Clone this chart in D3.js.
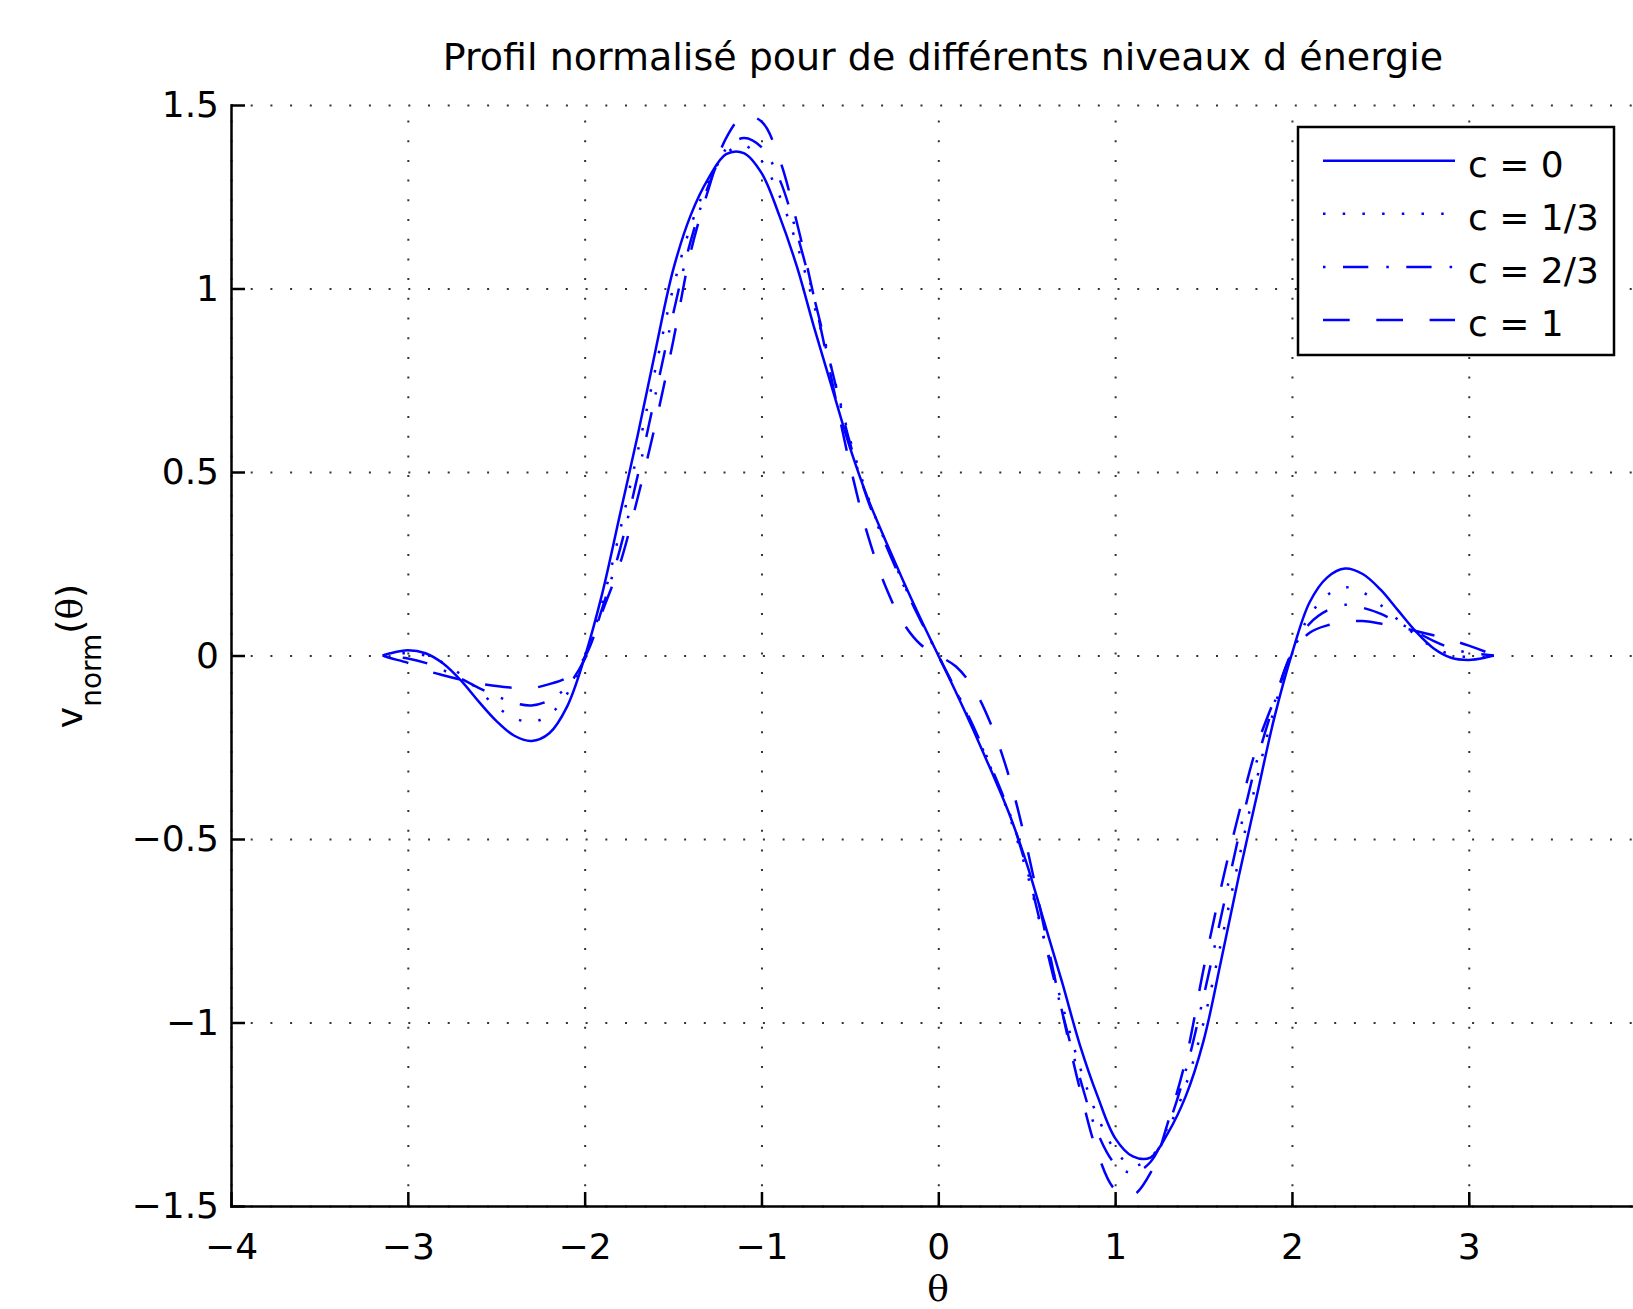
<!DOCTYPE html>
<html>
  <head>
    <meta charset="utf-8">
    <title>Profil normalisé</title>
    <style>
      body { margin: 0; background: #fff; }
      svg text { font-family: "DejaVu Sans", sans-serif; fill: #000; }
      .grid line { stroke: #333; stroke-width: 2; stroke-dasharray: 2, 17.7; }
      .grid .domain { display: none; }
      .axis path, .axis line { stroke: #000; stroke-width: 2.5; }
      .curve { fill: none; stroke: #0000ff; stroke-width: 2.5; stroke-linejoin: round; }
    </style>
  </head>
  <body>
    <div id="chart"></div>

    <script src="https://d3js.org/d3.v7.min.js"></script>
    <script>
      const theta = [-3.1416, -3.1, -3.0, -2.9, -2.8, -2.7, -2.6, -2.5, -2.4, -2.3, -2.2, -2.1, -2.0,
        -1.9, -1.8, -1.7, -1.6, -1.5, -1.4, -1.3, -1.2, -1.1, -1.0, -0.9, -0.8, -0.7, -0.6, -0.5,
        -0.4, -0.3, -0.2, -0.1, 0, 0.1, 0.2, 0.3, 0.4, 0.5, 0.6, 0.7, 0.8, 0.9, 1.0, 1.1, 1.2,
        1.3, 1.4, 1.5, 1.6, 1.7, 1.8, 1.9, 2.0, 2.1, 2.2, 2.3, 2.4, 2.5, 2.6, 2.7, 2.8, 2.9,
        3.0, 3.1, 3.1416]

      const c0 = [0, 0.006, 0.014, 0.006, -0.022, -0.068, -0.125, -0.178, -0.218, -0.233, -0.212,
        -0.14, -0.005, 0.17, 0.385, 0.60, 0.83, 1.05, 1.20, 1.30, 1.366, 1.369, 1.315, 1.20, 1.06,
        0.89, 0.728, 0.567, 0.43, 0.315, 0.205, 0.10, 0,
        -0.10, -0.205, -0.315, -0.43, -0.567, -0.728, -0.89, -1.06, -1.20, -1.315, -1.365, -1.368,
        -1.30, -1.20, -1.05, -0.83, -0.60, -0.385, -0.17, 0.005, 0.145, 0.213, 0.237, 0.222, 0.18,
        0.123, 0.066, 0.02, -0.006, -0.012, -0.005, 0]

      const c13 = [0, 0.004, 0.006, 0.0, -0.02, -0.052, -0.095, -0.138, -0.17, -0.181, -0.162,
        -0.105, -0.01, 0.145, 0.34, 0.555, 0.78, 1.0, 1.17, 1.29, 1.368, 1.39, 1.348, 1.255, 1.12,
        0.95, 0.775, 0.59, 0.435, 0.31, 0.2, 0.097, 0,
        -0.097, -0.2, -0.31, -0.435, -0.59, -0.775, -0.95, -1.12, -1.255, -1.348, -1.39, -1.368,
        -1.29, -1.17, -1.0, -0.78, -0.555, -0.34, -0.145, 0.01, 0.108, 0.165, 0.186, 0.172, 0.138,
        0.097, 0.055, 0.022, 0.003, -0.004, -0.003, 0]

      const c23 = [0, -0.003, -0.008, -0.02, -0.04, -0.063, -0.088, -0.11, -0.129, -0.136, -0.122,
        -0.085, -0.01, 0.13, 0.29, 0.49, 0.71, 0.93, 1.13, 1.28, 1.38, 1.41, 1.385, 1.30, 1.15,
        0.97, 0.775, 0.58, 0.425, 0.305, 0.195, 0.095, 0,
        -0.095, -0.195, -0.305, -0.425, -0.58, -0.775, -0.97, -1.15, -1.30, -1.385, -1.41, -1.38,
        -1.28, -1.13, -0.93, -0.71, -0.49, -0.29, -0.13, 0.01, 0.087, 0.123, 0.138, 0.13, 0.114,
        0.09, 0.065, 0.04, 0.02, 0.007, 0.002, 0]

      const c1 = [0, -0.007, -0.02, -0.04, -0.054, -0.066, -0.076, -0.083, -0.088, -0.089, -0.078,
        -0.06, -0.005, 0.12, 0.25, 0.43, 0.63, 0.855, 1.10, 1.27, 1.41, 1.47, 1.455, 1.355, 1.18,
        0.97, 0.745, 0.52, 0.33, 0.19, 0.09, 0.03, 0,
        -0.03, -0.09, -0.19, -0.33, -0.52, -0.745, -0.97, -1.18, -1.355, -1.455, -1.47, -1.41,
        -1.27, -1.10, -0.855, -0.63, -0.43, -0.25, -0.12, 0.005, 0.062, 0.082, 0.091, 0.094, 0.087,
        0.078, 0.067, 0.055, 0.042, 0.027, 0.009, 0]

      const labels = ["c = 0", "c = 1/3", "c = 2/3", "c = 1"]
      // the axis runs to 4 but the figure is cropped before that tick
      const xTicks = [-4, -3, -2, -1, 0, 1, 2, 3]
      const yTicks = [-1.5, -1, -0.5, 0, 0.5, 1, 1.5]

      // matlab line styles: -  :  -.  --
      const dashes = [null, "2.5,17.2", "2.5,17.5,25.3,18", "26.7,26.6"]
      const series = [c0, c13, c23, c1]

      const margin = { top: 105, left: 231 },
        width = 1414.6,
        height = 1101;

      const svg = d3.select("#chart")
        .append("svg")
        .attr("width", 1633)
        .attr("height", 1309)

      const g = svg.append("g")
        .attr("transform", "translate(" + margin.left + "," + margin.top + ")")

      const x = d3.scaleLinear().domain([-4, 4]).range([0, width])
      const y = d3.scaleLinear().domain([-1.5, 1.5]).range([height, 0])

      const fmt = d => d < 0 ? "\u2212" + Math.abs(d) : String(d)

      // dotted grid
      g.append("g")
        .attr("class", "grid")
        .attr("transform", "translate(0," + height + ")")
        .call(d3.axisBottom(x).tickValues(xTicks).tickSize(-height).tickFormat(""))

      g.append("g")
        .attr("class", "grid")
        .call(d3.axisLeft(y).tickValues(yTicks).tickSize(-width).tickFormat(""))

      // axes, ticks pointing inward
      g.append("g")
        .attr("class", "axis")
        .attr("transform", "translate(0," + height + ")")
        .call(d3.axisBottom(x).tickValues(xTicks).tickSizeInner(-14).tickSizeOuter(0)
          .tickPadding(27).tickFormat(fmt))

      g.append("g")
        .attr("class", "axis")
        .call(d3.axisLeft(y).tickValues(yTicks).tickSizeInner(-14).tickSizeOuter(0)
          .tickPadding(12).tickFormat(fmt))

      g.selectAll(".axis text")
        .attr("font-size", 36)
        .attr("font-family", "DejaVu Sans")
        .attr("fill", "#000")
      g.selectAll(".axis .domain").attr("stroke-linecap", "square")

      const line = d3.line()
        .x((d, i) => x(theta[i]))
        .y(d => y(d))
        .curve(d3.curveCatmullRom.alpha(0.5))

      series.forEach((vals, ix) => {
        g.append("path")
          .attr("class", "curve")
          .attr("d", line(vals))
          .attr("stroke-dasharray", dashes[ix])
      })

      // title and labels
      svg.append("text")
        .attr("x", 943)
        .attr("y", 70)
        .attr("text-anchor", "middle")
        .attr("font-size", 38)
        .text("Profil normalisé pour de différents niveaux d énergie")

      svg.append("text")
        .attr("x", 938)
        .attr("y", 1301)
        .attr("text-anchor", "middle")
        .attr("font-size", 36)
        .style("font-family", "DejaVu Serif")
        .text("θ")

      const ylab = svg.append("text")
        .attr("transform", "translate(82,656) rotate(-90)")
        .attr("text-anchor", "middle")
        .attr("font-size", 36)
      ylab.append("tspan").text("v")
      ylab.append("tspan").attr("font-size", 28).attr("dy", 19).text("norm")
      ylab.append("tspan").attr("dy", -19).text("(")
      ylab.append("tspan").style("font-family", "DejaVu Serif").text("θ")
      ylab.append("tspan").text(")")

      // legend
      const legend = svg.append("g").attr("class", "legend")
      legend.append("rect")
        .attr("x", 1298)
        .attr("y", 127)
        .attr("width", 316)
        .attr("height", 228)
        .attr("fill", "#fff")
        .attr("stroke", "#000")
        .attr("stroke-width", 2.5)

      labels.forEach((label, ix) => {
        const ry = 160.7 + ix * 53.1
        legend.append("line")
          .attr("class", "curve")
          .attr("x1", 1323)
          .attr("x2", 1455)
          .attr("y1", ry)
          .attr("y2", ry)
          .attr("stroke-dasharray", dashes[ix])
        legend.append("text")
          .attr("x", 1468)
          .attr("y", ry + 16)
          .attr("font-size", 36)
          .text(label)
      })
    </script>
  </body>
</html>
